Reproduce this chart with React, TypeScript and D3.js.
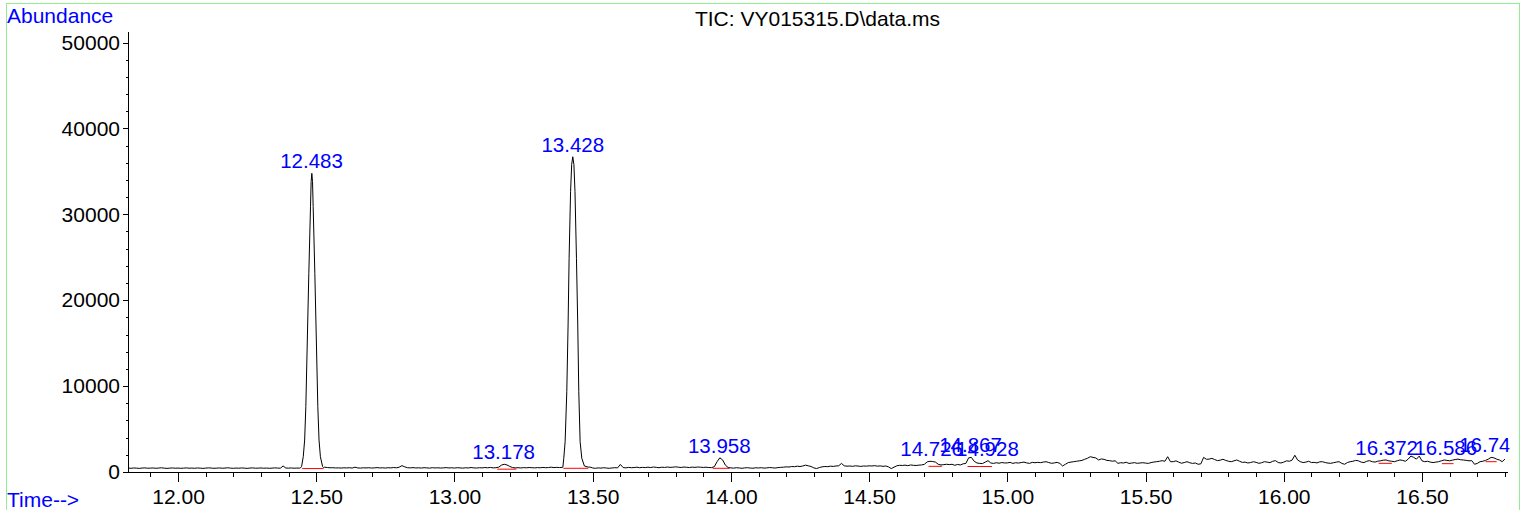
import React, { useEffect, useRef } from 'react';
import * as d3 from 'd3';

// TIC trace, one scan value every 0.01 min starting at 11.82
const scanStart = 11.82;
const scanStep = 0.01;
const abundance: number[] = [
  460, 430, 470, 450, 420, 460, 480, 440,
  450, 470, 430, 460, 490, 450, 420, 450, 470, 440,
  460, 430, 450, 480, 440, 460, 430, 470, 450, 420,
  450, 480, 460, 430, 450, 470, 440, 460, 490, 450,
  430, 460, 440, 470, 450, 420, 460, 480, 440, 450,
  470, 440, 460, 430, 450, 480, 460, 440, 700, 460,
  450, 470, 440, 460, 450, 450, 450, 450, 450, 450,
  450, 450, 450, 560, 520, 490, 500, 470, 480, 460,
  490, 470, 500, 460, 560, 480, 450, 490, 470, 500,
  460, 480, 510, 470, 490, 460, 500, 480, 520, 490,
  560, 740, 600, 500, 480, 510, 470, 490, 460, 500,
  480, 450, 500, 470, 490, 460, 480, 510, 470, 490,
  460, 500, 480, 450, 490, 470, 520, 480, 460, 500,
  480, 520, 490, 530, 480, 500, 560, 800, 900, 820,
  650, 520, 480, 500, 470, 510, 490, 520, 500, 480,
  510, 490, 530, 500, 520, 560, 510, 540, 520, 540,
  540, 540, 540, 540, 540, 540, 540, 540, 540, 580,
  470, 430, 480, 450, 500, 460, 430, 470, 500, 480,
  880, 520, 480, 540, 500, 520, 560, 500, 540, 510,
  560, 520, 580, 540, 500, 560, 530, 580, 540, 560,
  600, 560, 530, 580, 550, 520, 570, 540, 580, 560,
  530, 560, 520, 510, 620, 1200, 1650, 1400, 800, 520,
  480, 450, 500, 470, 430, 480, 500, 460, 440, 490,
  470, 500, 450, 480, 520, 490, 460, 510, 540, 560,
  600, 580, 640, 620, 680, 640, 700, 800, 720, 640,
  480, 400, 520, 600, 640, 620, 680, 650, 700, 720,
  1000, 720, 680, 700, 660, 720, 690, 650, 700, 680,
  720, 700, 740, 680, 710, 660, 700, 600, 400, 560,
  720, 780, 760, 800, 740, 820, 780, 760, 800, 820,
  900, 1180, 1250, 1220, 1150, 900, 820, 860, 900, 860,
  900, 780, 880, 820, 950, 1000, 1650, 1700, 1250, 1050,
  1000, 980, 1150, 1320, 1050, 1000, 1080, 1020, 1100, 1050,
  1060, 1120, 1000, 1080, 1040, 1100, 1150, 1060, 1000, 1120,
  1080, 1120, 1090, 1150, 1200, 1100, 1010, 1060, 1120, 1000,
  700, 900, 1090, 1150, 1200, 1250, 1300, 1350, 1480, 1600,
  1780, 1700, 1640, 1400, 1520, 1470, 1350, 1320, 1260, 1300,
  1010, 1080, 1050, 1130, 1000, 1040, 1090, 1010, 1050, 1080,
  1040, 1000, 1100, 1160, 1200, 1250, 1320, 1250, 1780, 1200,
  1200, 1300, 1150, 1020, 1100, 1200, 1080, 1000, 1050, 900,
  950, 1700, 1480, 1500, 1590, 1450, 1320, 1380, 1480, 1350,
  1250, 1200, 1300, 1400, 1250, 1120, 1150, 1050, 1100, 1200,
  1120, 1010, 1080, 1200, 1150, 1090, 1250, 1320, 1100, 1050,
  1150, 1300, 1250, 1380, 1950, 1400, 1200, 1100, 1150, 1250,
  1100, 1120, 1060, 1180, 1200, 1100, 1040, 1010, 1080, 1150,
  1200, 1000, 900, 1100, 1200, 1250, 1350, 1300, 1150, 1100,
  1250, 1320, 1200, 1150, 1260, 1300, 1380, 1400, 1300, 1250,
  1200, 1300, 1400, 1350, 1250, 1500, 1860, 1700, 1500, 1850,
  1300, 1200, 1250, 1150, 1100, 1150, 1200, 1300, 1400, 1350,
  1300, 1380, 1450, 1500, 1420, 1400, 1350, 1300, 1320, 900,
  1000, 1200, 1250, 1350, 1500, 1700, 1650, 1500, 1400, 1200,
  1500,
];

// the two big peaks, sampled finer
const peak1Times = [12.443, 12.447, 12.453, 12.458, 12.4623, 12.4677, 12.4731, 12.4792, 12.4815, 12.484, 12.4865, 12.4888, 12.4949, 12.5003, 12.5057, 12.51, 12.515, 12.523, 12.527];
const peak1Values = [480, 650, 1780, 3720, 7600, 15370, 23130, 30890, 33800, 34770, 33800, 30890, 23130, 15370, 7600, 3720, 1780, 620, 500];
const peak2Times = [13.392, 13.3954, 13.4003, 13.4063, 13.411, 13.4147, 13.42, 13.424, 13.428, 13.432, 13.436, 13.4413, 13.446, 13.4497, 13.4545, 13.4606, 13.47, 13.485];
const peak2Values = [540, 1590, 3530, 9350, 17110, 24870, 32630, 35800, 36700, 35800, 32630, 24870, 17110, 9350, 3530, 1590, 700, 560];

// integration labels and red baselines
const peakLabels = ['12.483', '13.178', '13.428', '13.958', '14.726', '14.867', '14.928', '16.372', '16.586', '16.748'];
const baseStart = [12.449, 13.155, 13.394, 13.934, 14.715, 14.856, 14.9, 16.343, 16.572, 16.73];
const baseEnd = [12.526, 13.224, 13.484, 13.995, 14.763, 14.9, 14.944, 16.391, 16.614, 16.77];
const baseLevel = [400, 330, 430, 430, 660, 640, 640, 1010, 970, 1200];

const xMajor = [12.0, 12.5, 13.0, 13.5, 14.0, 14.5, 15.0, 15.5, 16.0, 16.5];
const yMajor = [0, 10000, 20000, 30000, 40000, 50000];

const FONT = "'Liberation Sans', Arial, sans-serif";

export default function App() {
  const svgRef = useRef<SVGSVGElement>(null);

  useEffect(() => {
    const svg = d3.select(svgRef.current);
    svg.selectAll('*').remove();

    const x = d3.scaleLinear().domain([11.819, 16.8075]).range([128, 1507]);
    const y = d3.scaleLinear().domain([0, 51340]).range([472, 31]);

    // frame
    svg.append('rect')
      .attr('x', 6.5).attr('y', 3.5)
      .attr('width', 1513).attr('height', 600)
      .attr('fill', 'none')
      .attr('stroke', '#90ee90');

    // build the trace: scans + finer peak samples
    const peaks = [
      { times: peak1Times, values: peak1Values },
      { times: peak2Times, values: peak2Values },
    ];
    let pts: [number, number][] = abundance.map((v, i) => [scanStart + i * scanStep, v]);
    peaks.forEach(p => {
      const lo = p.times[0], hi = p.times[p.times.length - 1];
      pts = pts.filter(d => d[0] < lo || d[0] > hi);
      p.times.forEach((t, i) => pts.push([t, p.values[i]]));
    });
    pts.sort((a, b) => a[0] - b[0]);

    // axes
    const minorX = d3.range(119, 169).map(d => d / 10).filter(d => d >= 11.82 && d <= 16.81);
    const gxMinor = svg.append('g')
      .attr('transform', 'translate(0,472)')
      .call(d3.axisBottom(x).tickValues(minorX).tickSize(5).tickSizeOuter(0).tickFormat(() => ''));
    gxMinor.select('.domain').remove();

    const gx = svg.append('g')
      .attr('transform', 'translate(0,472)')
      .call(d3.axisBottom(x).tickValues(xMajor).tickSize(10).tickSizeOuter(0).tickPadding(7).tickFormat(d3.format('.2f')));
    gx.selectAll('text').attr('font-size', 21).attr('font-family', FONT).attr('fill', '#000');

    const minorY = d3.range(0, 51001, 2000);
    const gyMinor = svg.append('g')
      .attr('transform', 'translate(128,0)')
      .call(d3.axisLeft(y).tickValues(minorY).tickSize(2).tickSizeOuter(0).tickFormat(() => ''));
    gyMinor.select('.domain').remove();

    const gy = svg.append('g')
      .attr('transform', 'translate(128,0)')
      .call(d3.axisLeft(y).tickValues(yMajor).tickSize(5).tickSizeOuter(0).tickPadding(3).tickFormat(d3.format('d')));
    gy.selectAll('text').attr('font-size', 21).attr('font-family', FONT).attr('fill', '#000');

    svg.selectAll('.domain, .tick line').attr('stroke', '#000').attr('shape-rendering', 'crispEdges');

    // red integration baselines
    svg.append('g').selectAll('line')
      .data(baseStart)
      .enter().append('line')
      .attr('x1', (d) => x(d))
      .attr('x2', (_d, i) => x(baseEnd[i]))
      .attr('y1', (_d, i) => y(baseLevel[i]))
      .attr('y2', (_d, i) => y(baseLevel[i]))
      .attr('stroke', '#ff0000')
      .attr('stroke-width', 1);

    // the TIC trace
    const line = d3.line<[number, number]>()
      .x(d => x(d[0]))
      .y(d => y(d[1]));
    svg.append('path')
      .datum(pts)
      .attr('d', line)
      .attr('fill', 'none')
      .attr('stroke', '#000')
      .attr('stroke-width', 1);

    // peak labels, clipped at the right end of the plot
    svg.append('clipPath').attr('id', 'labelClip')
      .append('rect').attr('x', 0).attr('y', 0).attr('width', 1509.5).attr('height', 510);
    svg.append('g').attr('clip-path', 'url(#labelClip)')
      .selectAll('text')
      .data(peakLabels)
      .enter().append('text')
      .attr('x', d => x(+d))
      .attr('y', d => {
        const t = +d;
        const top = d3.max(pts.filter(p => Math.abs(p[0] - t) <= 0.012), p => p[1]) ?? 0;
        return y(top) - 5;
      })
      .attr('text-anchor', 'middle')
      .attr('font-size', 20.5)
      .attr('font-family', FONT)
      .attr('fill', '#0000ff')
      .text(d => d);

    // title and axis names
    svg.append('text')
      .attr('x', 817.5).attr('y', 26)
      .attr('text-anchor', 'middle')
      .attr('font-size', 21).attr('font-family', FONT)
      .attr('fill', '#000')
      .text('TIC: VY015315.D\\data.ms');

    svg.append('text')
      .attr('x', 7).attr('y', 23)
      .attr('font-size', 21).attr('font-family', FONT)
      .attr('fill', '#0000ff')
      .text('Abundance');

    svg.append('text')
      .attr('x', 7).attr('y', 507)
      .attr('font-size', 21).attr('font-family', FONT)
      .attr('fill', '#0000ff')
      .text('Time-->');
  }, []);

  return (
    <svg
      ref={svgRef}
      width={1526}
      height={510}
      style={{ position: 'absolute', left: 0, top: 0, background: '#fff' }}
    />
  );
}
